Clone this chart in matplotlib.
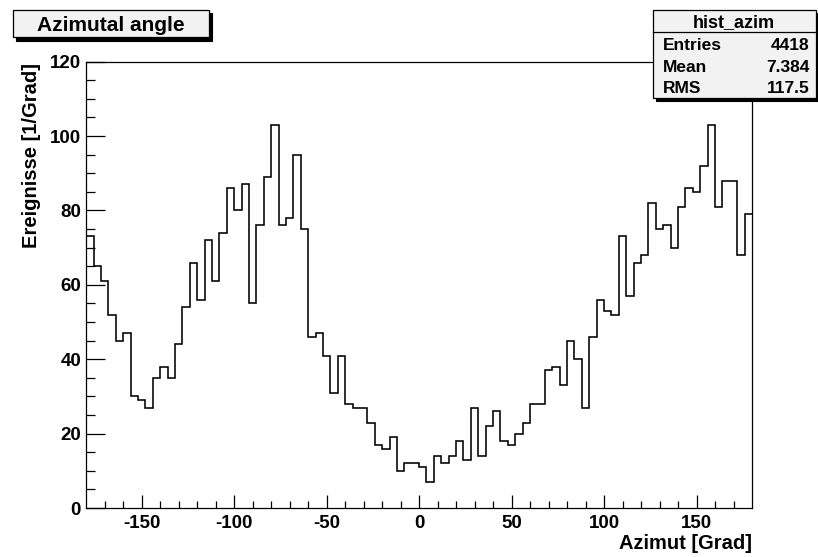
import numpy as np
import matplotlib
matplotlib.use("Agg")
import matplotlib.pyplot as plt
from matplotlib.patches import Rectangle

# ---- data ----
x_min, x_max = -180, 180
counts = [73, 65, 61, 52, 45, 47, 30, 29, 27, 35,
          38, 35, 44, 54, 66, 56, 72, 61, 74, 86,
          80, 87, 55, 76, 89, 103, 76, 78, 95, 75,
          46, 47, 41, 31, 41, 28, 27, 27, 23, 17,
          16, 19, 10, 12, 12, 11, 7, 14, 12, 14,
          18, 13, 27, 14, 22, 26, 18, 17, 20, 23,
          28, 28, 37, 38, 33, 45, 40, 27, 46, 56,
          53, 52, 73, 57, 66, 68, 82, 75, 76, 70,
          81, 86, 85, 92, 103, 81, 88, 88, 68, 79]
x_ticks = [-150, -100, -50, 0, 50, 100, 150]
y_ticks = [0, 20, 40, 60, 80, 100, 120]
title = "Azimutal angle"
x_label = "Azimut [Grad]"
y_label = "Ereignisse [1/Grad]"
stats_name = "hist_azim"
stats_rows = [("Entries", "4418"), ("Mean", "7.384"), ("RMS", "117.5")]

plt.rcParams['font.family'] = ['Liberation Sans', 'DejaVu Sans']
plt.rcParams['font.weight'] = 'bold'
plt.rcParams['axes.unicode_minus'] = False

W, H = 818, 557
fig = plt.figure(figsize=(W / 100, H / 100), dpi=100)
fig.patch.set_facecolor('white')

def fx(px):
    return px / W

def fy(py):
    return 1 - py / H

left, right, top, bottom = 86.2, 752.0, 61.6, 508.1
ax = fig.add_axes([fx(left), fy(bottom), fx(right) - fx(left), (bottom - top) / H])

edges = np.linspace(x_min, x_max, len(counts) + 1)
ax.stairs(counts, edges, baseline=None, color='black', linewidth=1.15)

ax.set_xlim(x_min, x_max)
ax.set_ylim(0, 120)
ax.set_xticks(x_ticks)
ax.set_yticks(y_ticks)
ax.set_xticks(np.arange(-170, 180, 10), minor=True)
ax.set_yticks(np.arange(0, 121, 5), minor=True)

ax.tick_params(axis='x', which='major', direction='in', length=9.6, width=0.9,
               top=False, pad=5, labelsize=13.5)
ax.tick_params(axis='x', which='minor', direction='in', length=4.8, width=0.9, top=False)
ax.tick_params(axis='y', which='major', direction='in', length=13.7, width=0.9,
               right=False, pad=3.7, labelsize=13.5)
ax.tick_params(axis='y', which='minor', direction='in', length=6.8, width=0.9, right=False)
for lab in ax.get_xticklabels() + ax.get_yticklabels():
    lab.set_fontweight('bold')
for sp in ax.spines.values():
    sp.set_linewidth(0.9)
    sp.set_color('black')

# axis labels
fig.text(fx(752), fy(549), x_label, ha='right', va='baseline',
         fontsize=14.5, fontweight='bold')
fig.text(fx(37.3), fy(63), y_label, ha='right', va='baseline', rotation=90,
         rotation_mode='anchor', fontsize=14.5, fontweight='bold')

# boxes with shadow
def box(x0, y0, x1, y1, shadow=3.3):
    fig.add_artist(Rectangle((fx(x0 + shadow), fy(y1 + shadow)), fx(x1 - x0), (y1 - y0) / H,
                             transform=fig.transFigure, facecolor='black',
                             edgecolor='black', linewidth=0.8, zorder=10))
    fig.add_artist(Rectangle((fx(x0), fy(y1)), fx(x1 - x0), (y1 - y0) / H,
                             transform=fig.transFigure, facecolor='#f2f2f2',
                             edgecolor='black', linewidth=0.9, zorder=11))

box(12.7, 10, 209, 37.3)
fig.text(fx(110.5), fy(30.7), title, ha='center', va='baseline',
         fontsize=15, fontweight='bold', zorder=12)

# stats box
box(652.7, 10, 815.7, 98.3, shadow=3)
fig.add_artist(plt.Line2D([fx(652.7), fx(815.7)], [fy(32.3), fy(32.3)],
                          transform=fig.transFigure, color='black', linewidth=0.9, zorder=12))
fig.text(fx(734), fy(27), stats_name, ha='center', va='baseline',
         fontsize=13, fontweight='bold', zorder=12)
for (lab, val), yb in zip(stats_rows, [50, 71.7, 93.3]):
    fig.text(fx(662.7), fy(yb), lab, ha='left', va='baseline',
             fontsize=12.5, fontweight='bold', zorder=12)
    fig.text(fx(809.5), fy(yb), val, ha='right', va='baseline',
             fontsize=12.5, fontweight='bold', zorder=12)

fig.savefig('out.png', dpi=100)
